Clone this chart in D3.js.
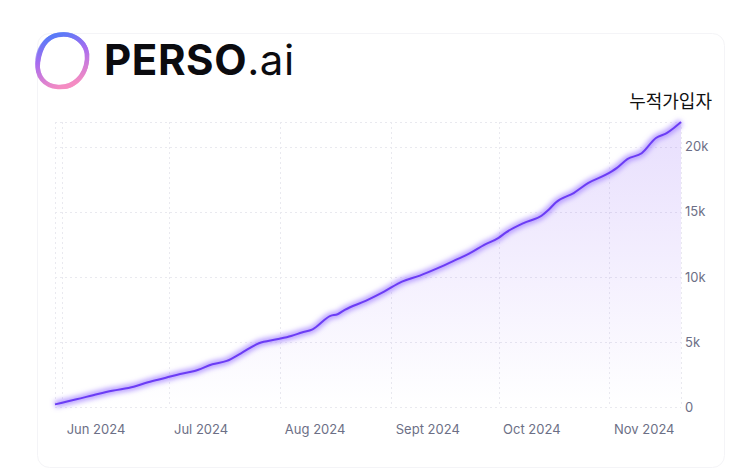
<!DOCTYPE html>
<html><head><meta charset="utf-8">
<script src="https://cdn.jsdelivr.net/npm/d3@7"></script>
<style>
html,body{margin:0;padding:0;background:#fff;}
svg{display:block;font-family:Inter,"Noto Sans",sans-serif;}
</style></head>
<body>
<svg id="chart" width="745" height="473"></svg>
<script>
const dates = ["2024-05-30","2024-06-01","2024-06-05","2024-06-11","2024-06-15","2024-06-21","2024-06-25","2024-06-30",
"2024-07-04","2024-07-08","2024-07-13","2024-07-17","2024-07-21","2024-07-26","2024-07-31",
"2024-08-04","2024-08-07","2024-08-10","2024-08-15","2024-08-17","2024-08-19","2024-08-25","2024-08-30",
"2024-09-04","2024-09-09","2024-09-14","2024-09-19","2024-09-23","2024-09-27",
"2024-10-01","2024-10-03","2024-10-08","2024-10-13","2024-10-15","2024-10-17","2024-10-22","2024-10-26","2024-10-31",
"2024-11-03","2024-11-06","2024-11-10","2024-11-14","2024-11-17","2024-11-19","2024-11-21"];
const values = [200,330,590,1000,1250,1560,1900,2250,
2540,2770,3280,3540,4130,4900,5200,
5460,5720,5970,7000,7130,7460,8180,8870,
9640,10100,10670,11300,11820,12460,
13000,13400,14130,14700,15150,15720,16440,17200,17850,
18360,19050,19500,20670,21050,21440,21900];
const monthTicks = ["2024-06-01","2024-07-01","2024-08-01","2024-09-01","2024-10-01","2024-11-01"];
const monthLabels = ["Jun 2024","Jul 2024","Aug 2024","Sept 2024","Oct 2024","Nov 2024"];
const yTicks = [0,5000,10000,15000,20000];
const yTickLabels = ["0","5k","10k","15k","20k"];
const title = "누적가입자";

const parse = d3.timeParse("%Y-%m-%d");
const data = dates.map((d,i)=>({date:parse(d), value:values[i]}));
const svg = d3.select("#chart");
const defs = svg.append("defs");

// card
svg.append("rect").attr("x",37.5).attr("y",33.5).attr("width",687).attr("height",434).attr("rx",12)
  .attr("fill","#fff").attr("stroke","#f4f4f7").attr("stroke-width",1);

const L=55, R=681, T=122, B=407;
const x = d3.scaleTime().domain([parse("2024-05-30"), parse("2024-11-21")]).range([L,R]);
const y = d3.scaleLinear().domain([0, d3.max(values)]).range([B,T]);

// grid
const g = svg.append("g");
const gridStyle = sel => sel.attr("stroke","#e9e9ef").attr("stroke-width",1).attr("stroke-dasharray","2 3").attr("fill","none");
[...yTicks.map(v=>y(v)), T].forEach(yy=>{
  g.append("line").attr("x1",L).attr("x2",R).attr("y1",Math.round(yy)+0.5).attr("y2",Math.round(yy)+0.5).call(gridStyle);
});
[L, ...monthTicks.map(d=>x(parse(d))), R].forEach(xx=>{
  g.append("line").attr("y1",T).attr("y2",B).attr("x1",Math.round(xx)+0.5).attr("x2",Math.round(xx)+0.5).call(gridStyle);
});

// area gradient
const ag = defs.append("linearGradient").attr("id","areaGrad").attr("x1",0).attr("y1",0).attr("x2",0).attr("y2",1);
ag.append("stop").attr("offset","0%").attr("stop-color","#8b5cf6").attr("stop-opacity",0.2);
ag.append("stop").attr("offset","100%").attr("stop-color","#8b5cf6").attr("stop-opacity",0.0);

const area = d3.area().x(d=>x(d.date)).y0(B).y1(d=>y(d.value)).curve(d3.curveMonotoneX);
const line = d3.line().x(d=>x(d.date)).y(d=>y(d.value)).curve(d3.curveMonotoneX);

svg.append("path").datum(data).attr("d",area).attr("fill","url(#areaGrad)");

const f = defs.append("filter").attr("id","glow").attr("x","-10%").attr("y","-10%").attr("width","120%").attr("height","120%");
f.append("feGaussianBlur").attr("stdDeviation",2.5);

svg.append("path").datum(data).attr("d",line).attr("fill","none").attr("stroke","#a98bff").attr("stroke-width",7).attr("stroke-opacity",0.8).attr("filter","url(#glow)");
svg.append("path").datum(data).attr("d",line).attr("fill","none").attr("stroke","#6b3cf5").attr("stroke-width",2).attr("stroke-linejoin","round");

// y axis labels
const yAxis = d3.axisRight(y).tickValues(yTicks).tickFormat((d,i)=>yTickLabels[i]).tickSize(0).tickPadding(4);
const ya = svg.append("g").attr("transform",`translate(${R},0)`).call(yAxis);
ya.select(".domain").remove();
ya.selectAll("text").attr("fill","#6c6f86").attr("font-size",13).attr("font-family","Inter,sans-serif");

// x axis labels
const xAxis = d3.axisBottom(x).tickValues(monthTicks.map(parse)).tickFormat((d,i)=>monthLabels[i]).tickSize(0).tickPadding(18);
const xa = svg.append("g").attr("transform",`translate(0,${B})`).call(xAxis);
xa.select(".domain").remove();
xa.selectAll("text").attr("fill","#6c6f86").attr("font-size",13).attr("font-family","Inter,sans-serif")
  .attr("text-anchor","start").attr("dx",4);

// title
svg.append("text").attr("x",712).attr("y",108).attr("text-anchor","end").attr("font-size",18)
  .attr("font-family","'Noto Sans CJK KR',sans-serif").attr("fill","#111").text(title);

// logo
const lg = defs.append("linearGradient").attr("id","logoGrad").attr("x1",0.2).attr("y1",0).attr("x2",0.5).attr("y2",1);
lg.append("stop").attr("offset","0%").attr("stop-color","#4e7cf9");
lg.append("stop").attr("offset","45%").attr("stop-color","#a86cef");
lg.append("stop").attr("offset","100%").attr("stop-color","#f58cc2");
const logo = svg.append("g");
const ringPaths = [
 "M58,35 C74,32 89,43 87,60 C85,77 73,88 58,87 C44,86 36,76 38,62 C40,48 46,37 58,35 Z",
 "M56,34 C73,30 88,40 88,57 C88,75 76,89 60,88 C45,87 36,77 37,63 C37,50 44,37 56,34 Z",
 "M57,36 C72,33 86,42 86,58 C86,74 74,86 59,86 C46,86 38,76 39,63 C40,50 46,39 57,36 Z",
 "M55,35 C71,31 87,39 88,56 C89,73 78,88 62,88 C46,88 37,79 36,64 C36,50 43,38 55,35 Z"
];
ringPaths.forEach((p,i)=>logo.append("path").attr("d",p).attr("fill","none").attr("stroke","url(#logoGrad)")
  .attr("stroke-width",i==0?4.5:2).attr("stroke-opacity",i==0?1:0.7));
const lt = svg.append("text").attr("x",104).attr("y",75).attr("font-family","Inter,sans-serif").attr("font-size",42)
  .attr("letter-spacing",0.6).attr("fill","#0b0b0f");
lt.append("tspan").attr("font-weight",700).text("PERSO");
lt.append("tspan").attr("font-weight",400).text(".ai");
</script>
</body></html>
